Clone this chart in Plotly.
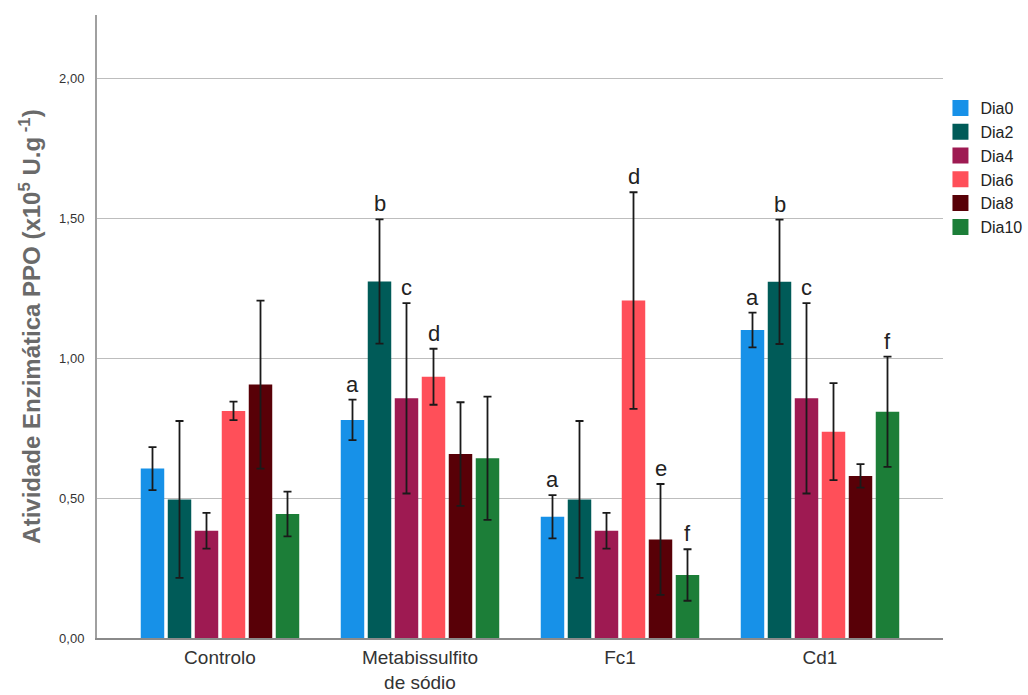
import plotly.graph_objects as go

# Treatments on the x axis
categories = ["Controlo", "Metabissulfito<br>de sódio", "Fc1", "Cd1"]
series_names = ["Dia0", "Dia2", "Dia4", "Dia6", "Dia8", "Dia10"]

# Mean PPO activity per day (x10^5 U.g^-1), one list per day, in treatment order
dia0 = [0.605, 0.779, 0.433, 1.100]
dia2 = [0.495, 1.273, 0.495, 1.272]
dia4 = [0.383, 0.856, 0.383, 0.856]
dia6 = [0.811, 0.933, 1.205, 0.737]
dia8 = [0.905, 0.657, 0.352, 0.579]
dia10 = [0.443, 0.642, 0.225, 0.808]

# Error bar half-lengths
err0 = [0.077, 0.072, 0.077, 0.062]
err2 = [0.280, 0.222, 0.280, 0.222]
err4 = [0.064, 0.340, 0.064, 0.340]
err6 = [0.033, 0.100, 0.387, 0.173]
err8 = [0.300, 0.185, 0.198, 0.042]
err10 = [0.080, 0.220, 0.092, 0.197]

# Significance letters (empty string = no letter)
letters0 = ["", "a", "a", "a"]
letters2 = ["", "b", "", "b"]
letters4 = ["", "c", "", "c"]
letters6 = ["", "d", "d", ""]
letters8 = ["", "", "e", ""]
letters10 = ["", "", "f", "f"]

values = [dia0, dia2, dia4, dia6, dia8, dia10]
errors = [err0, err2, err4, err6, err8, err10]
letters = [letters0, letters2, letters4, letters6, letters8, letters10]
colors = ["#1791E8", "#005B58", "#9E1A52", "#FF4F59", "#580007", "#1C7E38"]

bargap = 0.19
bargroupgap = 0.13

fig = go.Figure()
for name, vals, errs, col in zip(series_names, values, errors, colors):
    fig.add_trace(go.Bar(
        name=name,
        x=categories,
        y=vals,
        showlegend=False,
        marker=dict(color=col, line=dict(width=0)),
        error_y=dict(type="data", array=errs, visible=True,
                     color="#1a1a1a", thickness=1.8, width=4),
    ))

# Legend entries drawn as large square swatches
for name, col in zip(series_names, colors):
    fig.add_trace(go.Scatter(
        name=name, x=[None], y=[None], mode="markers",
        marker=dict(symbol="square", size=16, color=col),
        showlegend=True, hoverinfo="skip",
    ))

# Letters above the error bars, placed at each bar's slot in the group
n = len(series_names)
slot = (1 - bargap) / n
for i, (vals, errs, labs) in enumerate(zip(values, errors, letters)):
    for j, lab in enumerate(labs):
        if not lab:
            continue
        fig.add_annotation(
            x=j - (1 - bargap) / 2 + slot * (i + 0.5),
            y=vals[j] + errs[j],
            xref="x", yref="y",
            text=lab, showarrow=False,
            yanchor="bottom", yshift=1,
            font=dict(family="Liberation Sans, Arial, sans-serif", size=22, color="#222222"),
        )

fig.update_layout(
    width=1028, height=695,
    margin=dict(l=97, r=85, t=15, b=57, autoexpand=False),
    paper_bgcolor="white",
    plot_bgcolor="white",
    barmode="group",
    bargap=bargap,
    bargroupgap=bargroupgap,
    separators=",.",
    font=dict(family="Liberation Sans, Arial, sans-serif", color="#333333"),
    showlegend=True,
    legend=dict(
        x=0.997, xanchor="left",
        y=(638 - 91) / 623, yanchor="top",
        font=dict(size=16, color="#222222"),
        bgcolor="rgba(0,0,0,0)",
        tracegroupgap=0,
        itemwidth=30,
    ),
)

fig.update_xaxes(
    range=[-0.615, 3.615],
    automargin=False,
    showline=True, linecolor="#8a8a8a", linewidth=2,
    showgrid=False,
    ticks="outside", ticklen=1, tickcolor="rgba(0,0,0,0)",
    tickfont=dict(size=19, color="#333333"),
)

fig.update_yaxes(
    range=[0, 2.225],
    automargin=False,
    tickvals=[0, 0.5, 1.0, 1.5, 2.0],
    tickformat=".2f",
    showline=True, linecolor="#a0a0a0", linewidth=2,
    showgrid=True, gridcolor="#bdbdbd", gridwidth=1,
    zeroline=False,
    ticks="outside", ticklen=8, tickcolor="rgba(0,0,0,0)",
    tickfont=dict(size=13, color="#333333"),
    title=dict(
        text="Atividade Enzimática PPO (x10<sup>5</sup> U.g<sup> -1</sup>)",
        font=dict(size=24, color="#6a6a6a", weight="bold"),
        standoff=12,
    ),
)

fig.write_html("out.html")
